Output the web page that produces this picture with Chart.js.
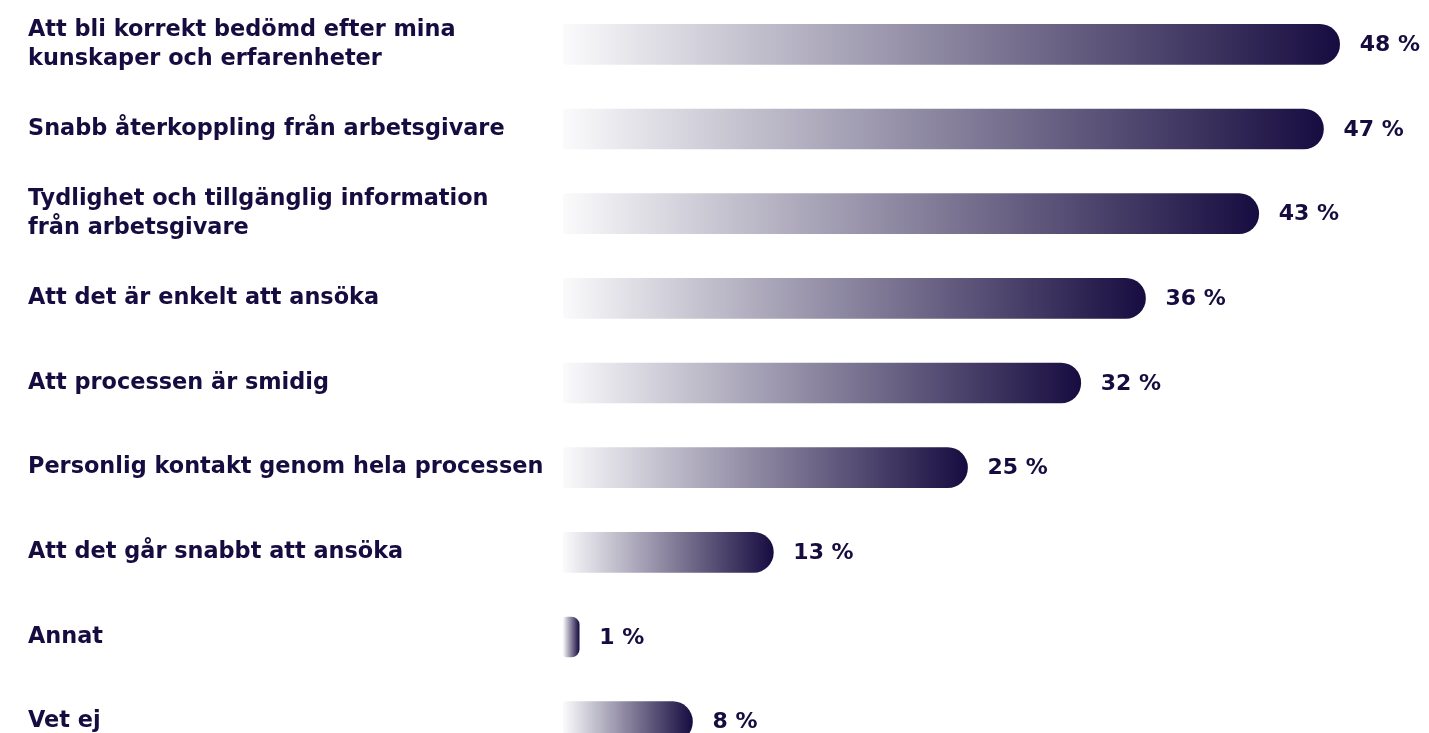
<!DOCTYPE html>
<html lang="sv">
<head>
<meta charset="utf-8">
<title>Viktigast i rekryteringsprocessen</title>
<script src="https://cdn.jsdelivr.net/npm/chart.js@4/dist/chart.umd.min.js"></script>
<style>
    html, body { margin: 0; padding: 0; background: #ffffff; overflow: hidden; }
    .chart-wrap { position: relative; width: 1429px; height: 764px; }
</style>
</head>
<body>
<div class="chart-wrap"><canvas id="prioChart"></canvas></div>
<script>
// Kategorier (flerradiga etiketter som arrayer)
const categories = [
    ['Att bli korrekt bedömd efter mina', 'kunskaper och erfarenheter'],
    'Snabb återkoppling från arbetsgivare',
    ['Tydlighet och tillgänglig information', 'från arbetsgivare'],
    'Att det är enkelt att ansöka',
    'Att processen är smidig',
    'Personlig kontakt genom hela processen',
    'Att det går snabbt att ansöka',
    'Annat',
    'Vet ej'
];

// Andel svarande i procent
const shares = [48, 47, 43, 36, 32, 25, 13, 1, 8];

const NAVY = '#170c40';
const FONT = '"DejaVu Sans", sans-serif';

// Gradient från nästan vitt till mörkblått, per stapel
function barGradient(context) {
    const chart = context.chart;
    const { ctx, chartArea, scales } = chart;
    if (!chartArea || context.parsed == null) return NAVY;
    const x0 = scales.x.getPixelForValue(0);
    const x1 = scales.x.getPixelForValue(context.parsed.x);
    if (x1 - x0 < 1) return NAVY;
    const g = ctx.createLinearGradient(x0, 0, x1, 0);
    g.addColorStop(0, 'rgba(23, 12, 64, 0.02)');
    g.addColorStop(1, 'rgba(23, 12, 64, 1)');
    return g;
}

// Procentetiketter till höger om staplarna
const valueLabels = {
    id: 'valueLabels',
    afterDatasetsDraw(chart) {
        const { ctx } = chart;
        const meta = chart.getDatasetMeta(0);
        ctx.save();
        ctx.fillStyle = NAVY;
        ctx.font = 'bold 22px ' + FONT;
        ctx.textAlign = 'left';
        ctx.textBaseline = 'middle';
        meta.data.forEach((bar, i) => {
            ctx.fillText(shares[i] + ' %', bar.x + 20, bar.y + 1);
        });
        ctx.restore();
    }
};

new Chart(document.getElementById('prioChart'), {
    type: 'bar',
    data: {
        labels: categories,
        datasets: [{
            data: shares,
            backgroundColor: barGradient,
            borderWidth: 0,
            borderSkipped: false,
            borderRadius: { topLeft: 4, bottomLeft: 4, topRight: 20, bottomRight: 20 },
            barThickness: 40
        }]
    },
    options: {
        indexAxis: 'y',
        responsive: true,
        maintainAspectRatio: false,
        animation: false,
        layout: { padding: { left: 28, right: 57, top: 2, bottom: 0 } },
        plugins: {
            legend: { display: false },
            tooltip: { enabled: false }
        },
        scales: {
            x: {
                display: false,
                min: 0,
                max: 50
            },
            y: {
                grid: { display: false },
                border: { display: false },
                afterFit(scale) {
                    scale.width = 535;
                    scale.paddingTop = 0;
                    scale.paddingBottom = 0;
                },
                ticks: {
                    crossAlign: 'far',
                    color: NAVY,
                    font: { family: FONT, size: 22.4, weight: 'bold', lineHeight: 1.3 },
                    padding: 0
                }
            }
        }
    },
    plugins: [valueLabels]
});
</script>
</body>
</html>
